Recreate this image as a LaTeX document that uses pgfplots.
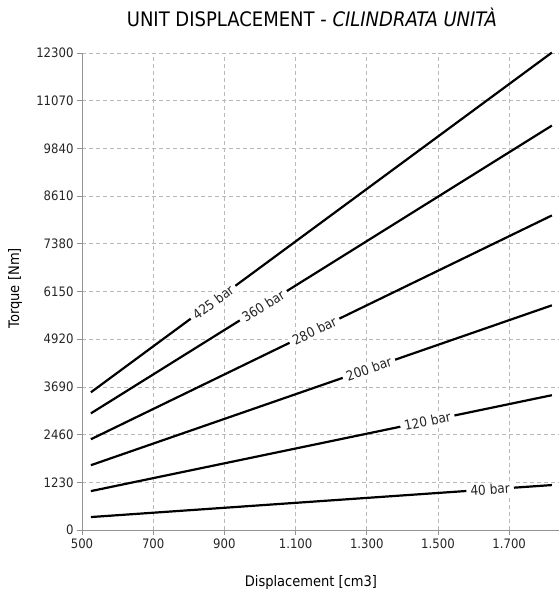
\documentclass[border=0pt]{standalone}
\usepackage{pgfplots}
\pgfplotsset{compat=1.18}
\usepackage{fontspec}
\setmainfont{DejaVu Sans Condensed}
\begin{document}
\begin{tikzpicture}
\path[use as bounding box] (-82pt,-67pt) rectangle (477pt,530pt);
\begin{axis}[
  scale only axis,
  width=477pt, height=477pt,
  xmin=500, xmax=1840, ymin=0, ymax=12300,
  xtick={500,700,900,1100,1300,1500,1700},
  ytick={0,1230,2460,3690,4920,6150,7380,8610,9840,11070,12300},
  scaled y ticks=false, scaled x ticks=false,
  /pgf/number format/assume math mode=true,
  xticklabel style={/pgf/number format/1000 sep={.}, font=\fontsize{13}{15}\selectfont, text=black!85},
  yticklabel style={/pgf/number format/1000 sep={}, font=\fontsize{13}{15}\selectfont, text=black!85},
  axis x line=bottom, axis y line=left,
  axis line style={-, draw=gray!85, line width=0.9pt},
  tick style={draw=gray!85, line width=0.7pt},
  tick align=outside, major tick length=5pt,
  grid=major,
  major grid style={gray!55, dash pattern=on 4pt off 3pt, line width=0.7pt},
  title={UNIT DISPLACEMENT - \textit{CILINDRATA UNITÀ}},
  title style={font=\fontsize{20}{24}\selectfont, at={(axis description cs:0.482,1.063)}, anchor=center},
  xlabel={Displacement [cm3]},
  ylabel={Torque [Nm]},
  label style={font=\fontsize{14.5}{17}\selectfont},
  xlabel style={at={(axis description cs:0.48,-0.111)}, anchor=center},
  ylabel style={at={(axis description cs:-0.14,0.507)}, anchor=center, rotate=0},
  clip=false,
]
\tikzset{lbl/.style={sloped, fill=white, inner xsep=4pt, inner ysep=1.5pt, font=\fontsize{13.5}{15}\selectfont, text=black!85}}
\addplot[black, line width=2.2pt] coordinates {(525,3551) (1820,12311)} node[lbl, pos=0.265] {425 bar};
\addplot[black, line width=2.2pt] coordinates {(525,3008) (1820,10428)} node[lbl, pos=0.374] {360 bar};
\addplot[black, line width=2.2pt] coordinates {(525,2340) (1820,8111)} node[lbl, pos=0.485] {280 bar};
\addplot[black, line width=2.2pt] coordinates {(525,1671) (1820,5793)} node[lbl, pos=0.603] {200 bar};
\addplot[black, line width=2.2pt] coordinates {(525,1003) (1820,3476)} node[lbl, pos=0.73] {120 bar};
\addplot[black, line width=2.2pt] coordinates {(525,334) (1820,1159)} node[lbl, pos=0.866] {40 bar};
\end{axis}
\end{tikzpicture}
\end{document}
